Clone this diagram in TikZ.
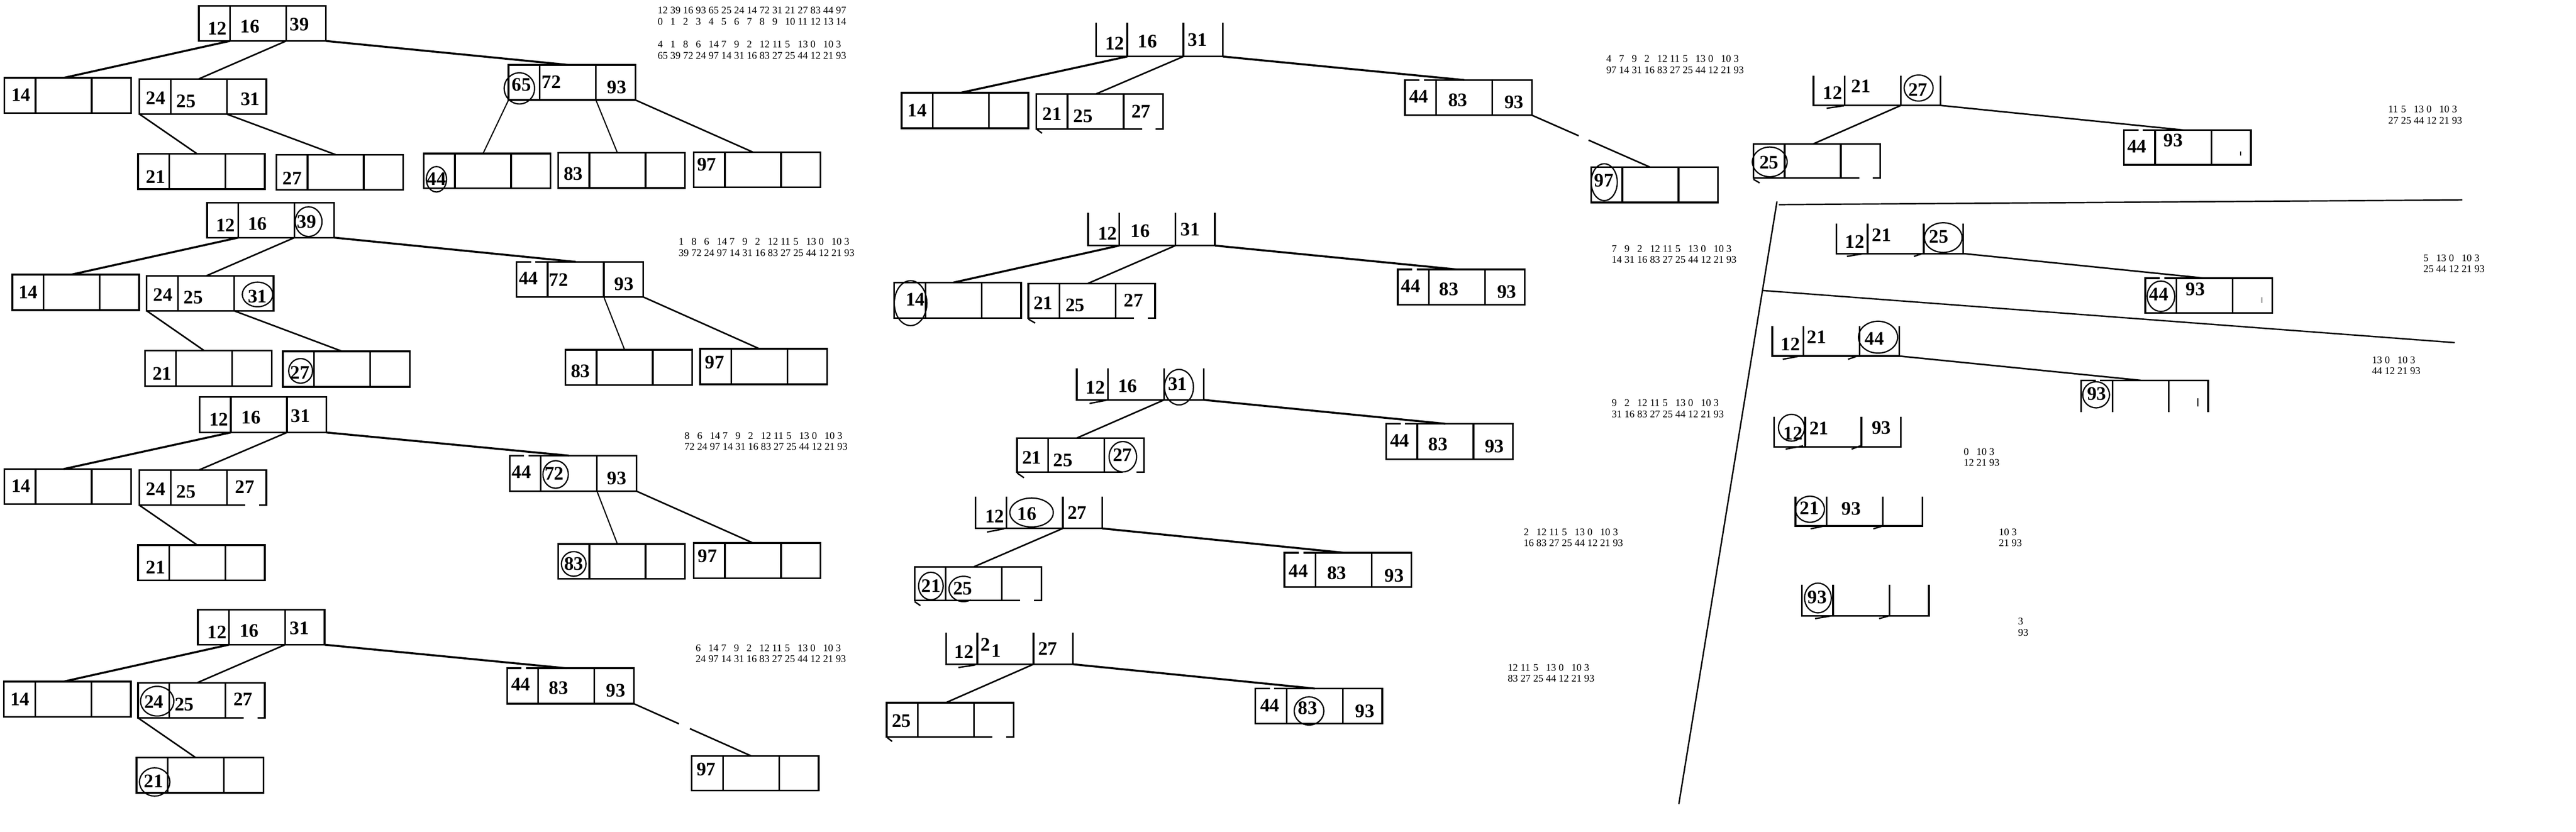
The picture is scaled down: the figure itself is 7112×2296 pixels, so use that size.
\documentclass[tikz,border=0pt]{standalone}
\usepackage{fontspec}
\setmainfont{Liberation Serif}
\usetikzlibrary{calc}
\newcommand\mkbox[4]{%
 \node[cell=0.86cm,minimum height=#4] (#1a) at (#2,#3) {};
 \node[cell=1.55cm,minimum height=#4] (#1b) at (#1a.north east) {};
 \node[cell=1.09cm,minimum height=#4] (#1c) at (#1b.north east) {};}
\newcommand\dv[1]{\draw[bx] (#1a.north east)--(#1a.south east) (#1b.north east)--(#1b.south east);}
\newcommand\dF[1]{\draw[bx] (#1a.north west) rectangle (#1c.south east);\dv{#1}}
\newcommand\dFg[1]{\draw[bx] ($(#1a.north west)+(40,0)$) -- (#1a.north west) -- (#1a.south west) -- (#1c.south east) -- (#1c.north east) -- ($(#1a.north west)+(52,0)$);\dv{#1}}
\newcommand\dFb[1]{\draw[bx] ($(#1a.south west)+(330,0)$) -- (#1c.south east) -- (#1c.north east) -- (#1a.north west) -- (#1a.south west) -- ($(#1a.south west)+(292,0)$);\dv{#1}}
\newcommand\dO[1]{\draw[bx] (#1a.north west) -- (#1a.south west) -- (#1c.south east) -- (#1c.north east);\dv{#1}}
\newcommand\dN[1]{\draw[bx] ($(#1a.north west)+(40,0)$) -- (#1a.north west) -- (#1a.south west) ($(#1a.north west)+(52,0)$) -- (#1c.north east) -- (#1c.south east);\dv{#1}}
\newcommand\cnx[3][cn]{\draw[#1] (#2) -- (#3b.north);}
\newcommand\nmb[4]{\node[numb] (#1) at (#2,#3) {#4};}
\newcommand\nmr[4]{\node[numr] (#1) at (#2,#3) {#4};}
\newcommand\elp[4]{\draw[elst] (#1,#2) ellipse [x radius=#3*0.01cm, y radius=#4*0.01cm];}
\newcommand\seqline[1]{\foreach \sqv in {#1}{\makebox[1.25em][l]{\sqv}}}
\newcommand\sqb[6]{\node[seq] (#1a) at (#2,#3) {\seqline{#5}};\node[seq] (#1b) at (#2,#4) {\seqline{#6}};}
\newcommand\tick[4]{\draw[tk] (#1,#2) -- (#3,#4);}
\begin{document}
\begin{tikzpicture}[x=0.01cm,y=-0.01cm,
 cell/.style={anchor=north west,inner sep=0pt,outer sep=0pt,minimum width=#1},
 bx/.style={line width=1.35pt},
 cn/.style={line width=1.2pt},
 cnk/.style={line width=1.55pt},
 cnt/.style={line width=0.9pt},
 elst/.style={line width=1pt},
 tk/.style={line width=1.1pt},
 numb/.style={inner sep=0pt,font=\fontsize{15}{15}\selectfont\bfseries},
 numr/.style={numb},
 seq/.style={inner sep=0pt,anchor=base west,font=\fontsize{8}{9}\selectfont},
 sep/.style={line width=1.1pt}]
\fill[white] (0,0) rectangle (7112,2296);
\useasboundingbox (0,0) rectangle (7112,2296);

% ---------------- boxes ----------------
\mkbox{t1r}{549}{16}{0.97cm}\dF{t1r}
\mkbox{t1a}{12}{215}{0.97cm}\dF{t1a}
\mkbox{t1b}{385}{218}{0.97cm}\dF{t1b}
\mkbox{t1c}{1404}{179}{0.97cm}\dF{t1c}
\mkbox{t1d}{381}{425}{0.97cm}\dF{t1d}
\mkbox{t1e}{763}{427}{0.97cm}\dF{t1e}
\mkbox{t1f}{1170}{424}{0.96cm}\dF{t1f}
\mkbox{t1g}{1541}{422}{0.97cm}\dF{t1g}
\mkbox{t1h}{1915}{420}{0.97cm}\dF{t1h}

\mkbox{t2r}{572}{560}{0.96cm}\dF{t2r}
\mkbox{t2a}{34}{758}{0.98cm}\dF{t2a}
\mkbox{t2b}{405}{762}{0.96cm}\dF{t2b}
\mkbox{t2c}{1426}{723}{0.97cm}\dFg{t2c}
\mkbox{t2d}{400}{968}{0.98cm}\dF{t2d}
\mkbox{t2e}{781}{970}{0.98cm}\dF{t2e}
\mkbox{t2f}{1561}{966}{0.97cm}\dF{t2f}
\mkbox{t2g}{1933}{963}{0.98cm}\dF{t2g}

\mkbox{t3r}{551}{1096}{0.98cm}\dF{t3r}
\mkbox{t3a}{12}{1295}{0.97cm}\dF{t3a}
\mkbox{t3b}{385}{1298}{0.97cm}\dFb{t3b}
\mkbox{t3c}{1407}{1258}{0.98cm}\dFg{t3c}
\mkbox{t3d}{381}{1505}{0.97cm}\dF{t3d}
\mkbox{t3f}{1541}{1502}{0.96cm}\dF{t3f}
\mkbox{t3g}{1915}{1499}{0.98cm}\dF{t3g}

\mkbox{t4r}{546}{1683}{0.97cm}\dF{t4r}
\mkbox{t4a}{11}{1882}{0.97cm}\dF{t4a}
\mkbox{t4b}{381}{1885}{0.97cm}\dFb{t4b}
\mkbox{t4c}{1400}{1845}{0.98cm}\dFg{t4c}
\mkbox{t4d}{377}{2092}{0.97cm}\dF{t4d}
\mkbox{t4g}{1910}{2087}{0.96cm}\dF{t4g}

\mkbox{mar}{3026}{63}{0.93cm}\dO{mar}
\mkbox{maa}{2489}{256}{0.98cm}\dF{maa}
\mkbox{mab}{2861}{260}{0.96cm}\dFb{mab}
\mkbox{mac}{3879}{221}{0.97cm}\dFg{mac}
\mkbox{mad}{4393}{462}{0.97cm}\dF{mad}

\mkbox{mbr}{3004}{588}{0.90cm}\dO{mbr}
\mkbox{mba}{2469}{780}{0.98cm}\dF{mba}
\mkbox{mbb}{2839}{783}{0.95cm}\dFb{mbb}
\mkbox{mbc}{3859}{744}{0.97cm}\dFg{mbc}

\mkbox{mcr}{2973}{1017}{0.87cm}\dO{mcr}
\mkbox{mcb}{2808}{1210}{0.94cm}\dFb{mcb}
\mkbox{mcc}{3827}{1170}{0.98cm}\dFg{mcc}

\mkbox{mdr}{2693}{1371}{0.88cm}\dO{mdr}
\mkbox{mdb}{2525}{1565}{0.93cm}\dFb{mdb}
\mkbox{mdc}{3546}{1526}{0.95cm}\dFg{mdc}

\mkbox{mer}{2612}{1747}{0.87cm}\dO{mer}
\mkbox{meb}{2448}{1940}{0.95cm}\dFb{meb}
\mkbox{mec}{3466}{1901}{0.97cm}\dFg{mec}

\mkbox{rar}{5007}{209}{0.82cm}\dO{rar}
\mkbox{rab}{4841}{398}{0.93cm}\dFb{rab}
\mkbox{rac}{5864}{359}{0.96cm}\dFg{rac}
\mkbox{rbr}{5070}{618}{0.82cm}\dO{rbr}
\mkbox{rbc}{5923}{768}{0.96cm}\dFg{rbc}
\mkbox{rcr}{4893}{901}{0.82cm}\dO{rcr}
\mkbox{rcc}{5746}{1050}{0.88cm}\dN{rcc}
\mkbox{rdr}{4898}{1150}{0.84cm}\dO{rdr}
\mkbox{rer}{4957}{1371}{0.81cm}\dO{rer}
\mkbox{rfr}{4975}{1615}{0.85cm}\dO{rfr}

% ---------------- connectors ----------------
\cnx[cnk]{t1ra.south east}{t1a}
\cnx{t1rb.south east}{t1b}
\cnx[cnk]{t1rc.south east}{t1c}
\cnx{t1ba.south west}{t1d}
\cnx{t1bb.south east}{t1e}
\cnx[cnt]{t1ca.south west}{t1f}
\cnx[cnt]{t1cb.south east}{t1g}
\cnx{t1cc.south east}{t1h}

\cnx[cnk]{t2ra.south east}{t2a}
\cnx{t2rb.south east}{t2b}
\cnx[cnk]{t2rc.south east}{t2c}
\cnx{t2ba.south west}{t2d}
\cnx{t2bb.south east}{t2e}
\cnx[cnt]{t2cb.south east}{t2f}
\cnx{t2cc.south east}{t2g}

\cnx[cnk]{t3ra.south east}{t3a}
\cnx{t3rb.south east}{t3b}
\cnx[cnk]{t3rc.south east}{t3c}
\cnx{t3ba.south west}{t3d}
\cnx[cnt]{t3cb.south east}{t3f}
\cnx{t3cc.south east}{t3g}

\cnx[cnk]{t4ra.south east}{t4a}
\cnx{t4rb.south east}{t4b}
\cnx[cnk]{t4rc.south east}{t4c}
\cnx{t4ba.south west}{t4d}
\cnx[cn,dash pattern=on 1.36cm off 0.33cm on 4cm]{t4cc.south east}{t4g}

\cnx[cnk]{mara.south east}{maa}
\cnx{marb.south east}{mab}
\cnx[cnk]{marc.south east}{mac}
\cnx[cn,dash pattern=on 1.41cm off 0.3cm on 4cm]{macc.south east}{mad}

\cnx[cnk]{mbra.south east}{mba}
\cnx{mbrb.south east}{mbb}
\cnx[cnk]{mbrc.south east}{mbc}

\cnx{mcrb.south east}{mcb}
\cnx[cnk]{mcrc.south east}{mcc}

\cnx{mdrb.south east}{mdb}
\cnx[cnk]{mdrc.south east}{mdc}

\cnx{merb.south east}{meb}
\cnx[cnk]{merc.south east}{mec}

\cnx{rarb.south east}{rab}
\cnx{rarc.south east}{rac}
\cnx{rbrc.south east}{rbc}
\cnx{rcrc.south east}{rcc}

% ---------------- numbers ----------------
\nmb{t1r-1}{600}{79}{12}\nmr{t1r-2}{690}{73}{16}\nmr{t1r-3}{827}{68}{39}
\nmr{t1a-1}{58}{262}{14}
\nmb{t1b-1}{430}{270}{24}\nmb{t1b-2}{514}{279}{25}\nmr{t1b-3}{691}{274}{31}
\nmr{t1c-1}{1440}{234}{65}\nmb{t1c-2}{1522}{227}{72}\nmr{t1c-3}{1703}{241}{93}\elp{1434}{244}{42}{43}
\nmb{t1d-1}{430}{488}{21}
\nmb{t1e-1}{807}{492}{27}
\nmb{t1f-1}{1205}{494}{44}\elp{1205}{495}{28}{35}
\nmr{t1g-1}{1583}{480}{83}
\nmb{t1h-1}{1951}{455}{97}

\nmb{t2r-1}{623}{622}{12}\nmr{t2r-2}{711}{618}{16}\nmr{t2r-3}{847}{612}{39}\elp{852}{612}{37}{41}
\nmr{t2a-1}{78}{807}{14}
\nmb{t2b-1}{450}{814}{24}\nmb{t2b-2}{534}{821}{25}\nmr{t2b-3}{711}{818}{31}\elp{711}{813}{42}{34}
\nmb{t2c-1}{1459}{768}{44}\nmb{t2c-2}{1542}{772}{72}\nmr{t2c-3}{1723}{784}{93}
\nmb{t2d-1}{448}{1031}{21}
\nmb{t2e-1}{828}{1028}{27}\elp{830}{1024}{33}{34}
\nmr{t2f-1}{1603}{1024}{83}
\nmb{t2g-1}{1973}{1000}{97}

\nmb{t3r-1}{604}{1158}{12}\nmr{t3r-2}{693}{1153}{16}\nmr{t3r-3}{830}{1149}{31}
\nmr{t3a-1}{58}{1342}{14}
\nmb{t3b-1}{430}{1350}{24}\nmb{t3b-2}{514}{1358}{25}\nmb{t3b-3}{676}{1344}{27}
\nmb{t3c-1}{1440}{1304}{44}\nmb{t3c-2}{1530}{1307}{72}\nmr{t3c-3}{1703}{1320}{93}\elp{1534}{1310}{35}{38}
\nmb{t3d-1}{430}{1567}{21}
\nmr{t3f-1}{1584}{1557}{83}\elp{1584}{1557}{34}{34}
\nmb{t3g-1}{1953}{1536}{97}

\nmb{t4r-1}{599}{1746}{12}\nmr{t4r-2}{688}{1741}{16}\nmr{t4r-3}{827}{1735}{31}
\nmr{t4a-1}{55}{1930}{14}
\nmb{t4b-1}{425}{1937}{24}\nmb{t4b-2}{509}{1945}{25}\nmb{t4b-3}{671}{1931}{27}\elp{434}{1936}{46}{41}
\nmb{t4c-1}{1438}{1890}{44}\nmr{t4c-2}{1542}{1900}{83}\nmr{t4c-3}{1700}{1907}{93}
\nmb{t4d-1}{424}{2156}{21}\elp{427}{2159}{42}{39}
\nmb{t4g-1}{1950}{2124}{97}

\nmb{mar-1}{3078}{120}{12}\nmr{mar-2}{3168}{115}{16}\nmr{mar-3}{3306}{110}{31}
\nmr{maa-1}{2532}{305}{14}
\nmb{mab-1}{2905}{314}{21}\nmb{mab-2}{2990}{320}{25}\nmb{mab-3}{3150}{307}{27}
\nmb{mac-1}{3917}{267}{44}\nmr{mac-2}{4025}{276}{83}\nmr{mac-3}{4180}{282}{93}
\nmb{mad-1}{4428}{499}{97}\elp{4429}{503}{36}{51}

\nmb{mbr-1}{3058}{644}{12}\nmr{mbr-2}{3148}{638}{16}\nmr{mbr-3}{3286}{634}{31}
\nmr{mba-1}{2527}{827}{14}\elp{2514}{837}{45}{62}
\nmb{mbb-1}{2880}{836}{21}\nmb{mbb-2}{2968}{842}{25}\nmb{mbb-3}{3130}{829}{27}
\nmb{mbc-1}{3895}{790}{44}\nmr{mbc-2}{4000}{798}{83}\nmr{mbc-3}{4160}{806}{93}

\nmb{mcr-1}{3024}{1070}{12}\nmr{mcr-2}{3113}{1066}{16}\nmr{mcr-3}{3251}{1060}{31}\elp{3255}{1069}{40}{49}
\nmb{mcb-1}{2849}{1263}{21}\nmb{mcb-2}{2935}{1271}{25}\nmb{mcb-3}{3099}{1256}{27}\elp{3100}{1261}{38}{42}
\nmb{mcc-1}{3864}{1216}{44}\nmr{mcc-2}{3970}{1226}{83}\nmr{mcc-3}{4126}{1233}{93}

\nmb{mdr-1}{2746}{1425}{12}\nmr{mdr-2}{2835}{1418}{16}\nmb{mdr-3}{2974}{1415}{27}\elp{2848}{1415}{60}{40}
\nmb{mdb-1}{2571}{1617}{21}\nmb{mdb-2}{2658}{1625}{25}\elp{2570}{1618}{34}{38}
\draw[elst] (2660,1626) ++(60:0.4cm and 0.35cm) arc [start angle=60,end angle=300,x radius=0.4cm,y radius=0.35cm];
\nmb{mdc-1}{3585}{1576}{44}\nmr{mdc-2}{3691}{1582}{83}\nmr{mdc-3}{3849}{1589}{93}

\nmb{mer-1}{2662}{1800}{12}\nmb{mer-2}{2721}{1780}{2}\nmb{mer-3}{2750}{1797}{1}\nmb{mer-4}{2893}{1791}{27}
\nmb{meb-1}{2489}{1991}{25}
\nmb{mec-1}{3506}{1947}{44}\nmr{mec-2}{3610}{1955}{83}\nmr{mec-3}{3768}{1963}{93}\elp{3614}{1963}{41}{39}

\nmb{rar-1}{5060}{256}{12}\nmb{rar-2}{5138}{238}{21}\nmb{rar-3}{5295}{248}{27}\elp{5297}{243}{40}{36}
\nmb{rab-1}{4884}{449}{25}\elp{4886}{447}{48}{41}
\nmb{rac-1}{5900}{405}{44}\nmb{rac-2}{6000}{388}{93}
\nmb{rbr-1}{5121}{667}{12}\nmb{rbr-2}{5195}{649}{21}\nmb{rbr-3}{5353}{654}{25}\elp{5365}{656}{52}{41}
\nmb{rbc-1}{5960}{812}{44}\nmb{rbc-2}{6061}{798}{93}\elp{5966}{818}{38}{42}
\nmb{rcr-1}{4943}{950}{12}\nmb{rcr-2}{5016}{931}{21}\nmb{rcr-3}{5175}{935}{44}\elp{5185}{931}{54}{44}
\nmb{rcc-1}{5789}{1087}{93}\elp{5787}{1090}{37}{36}
\nmb{rdr-1}{4950}{1197}{12}\nmb{rdr-2}{5022}{1182}{21}\nmb{rdr-3}{5194}{1181}{93}\elp{4946}{1181}{36}{37}
\nmb{rer-1}{4996}{1403}{21}\nmb{rer-2}{5111}{1405}{93}\elp{4997}{1406}{40}{36}
\nmb{rfr-1}{5017}{1649}{93}\elp{5019}{1651}{37}{41}

% ---------------- small stubs ----------------
\tick{3008}{1114}{3055}{1105}
\tick{2725}{1469}{2772}{1460}
\tick{2646}{1843}{2693}{1836}
\tick{2861}{356}{2877}{368}
\tick{2839}{881}{2858}{892}
\tick{2808}{1306}{2827}{1319}
\tick{2525}{1661}{2541}{1672}
\tick{2450}{2037}{2463}{2047}
\tick{4841}{495}{4858}{505}
\tick{5043}{299}{5091}{292}
\tick{5099}{708}{5147}{700}\tick{5284}{708}{5308}{700}
\tick{4922}{992}{4970}{983}\tick{5102}{992}{5128}{983}
\tick{4930}{1240}{4978}{1231}\tick{5112}{1240}{5136}{1231}
\tick{4999}{1460}{5038}{1452}\tick{5172}{1460}{5199}{1452}
\tick{5011}{1708}{5059}{1700}\tick{5188}{1708}{5217}{1700}
\draw[line width=0.6pt] (6186,418)--(6186,429) (6245,821)--(6245,836) (6068,1100)--(6068,1122);

% ---------------- separator lines ----------------
\coordinate (s1) at (4906,556); \coordinate (s2) at (4635,2220);
\coordinate (s3) at (4911,565); \coordinate (s4) at (6798,552);
\coordinate (s5) at (4866,802); \coordinate (s6) at (6777,946);
\draw[sep] (s1) -- (s2);
\draw[sep] (s3) -- (s4);
\draw[sep] (s5) -- (s6);

% ---------------- sequences ----------------
\sqb{s1a}{1815}{38}{69}{12,39,16,93,65,25,24,14,72,31,21,27,83,44,97}{0,1,2,3,4,5,6,7,8,9,10,11,12,13,14}
\sqb{s1b}{1815}{132}{163}{4,1,8,6,14,7,9,2,12,11,5,13,0,10,3}{65,39,72,24,97,14,31,16,83,27,25,44,12,21,93}
\sqb{s2}{1873}{676}{707}{1,8,6,14,7,9,2,12,11,5,13,0,10,3}{39,72,24,97,14,31,16,83,27,25,44,12,21,93}
\sqb{s3}{1889}{1212}{1243}{8,6,14,7,9,2,12,11,5,13,0,10,3}{72,24,97,14,31,16,83,27,25,44,12,21,93}
\sqb{s4}{1920}{1798}{1828}{6,14,7,9,2,12,11,5,13,0,10,3}{24,97,14,31,16,83,27,25,44,12,21,93}
\sqb{m1}{4434}{172}{203}{4,7,9,2,12,11,5,13,0,10,3}{97,14,31,16,83,27,25,44,12,21,93}
\sqb{m2}{4449}{696}{726}{7,9,2,12,11,5,13,0,10,3}{14,31,16,83,27,25,44,12,21,93}
\sqb{m3}{4449}{1122}{1153}{9,2,12,11,5,13,0,10,3}{31,16,83,27,25,44,12,21,93}
\sqb{m4}{4206}{1478}{1509}{2,12,11,5,13,0,10,3}{16,83,27,25,44,12,21,93}
\sqb{m5}{4162}{1853}{1883}{12,11,5,13,0,10,3}{83,27,25,44,12,21,93}
\sqb{r1}{6593}{311}{342}{11,5,13,0,10,3}{27,25,44,12,21,93}
\sqb{r2}{6690}{722}{752}{5,13,0,10,3}{25,44,12,21,93}
\sqb{r3}{6548}{1003}{1034}{13,0,10,3}{44,12,21,93}
\sqb{r4}{5421}{1256}{1287}{0,10,3}{12,21,93}
\sqb{r5}{5518}{1478}{1508}{10,3}{21,93}
\sqb{r6}{5571}{1725}{1756}{3}{93}
\end{tikzpicture}
\end{document}
